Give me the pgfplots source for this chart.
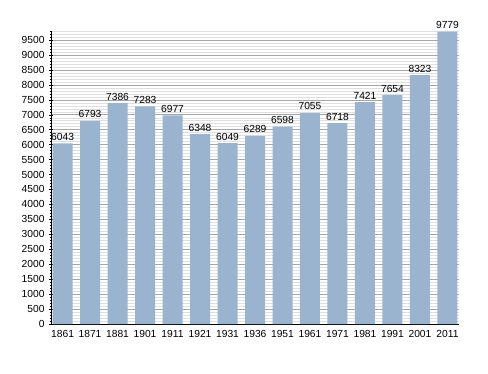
\documentclass[border=0pt]{standalone}
\usepackage{fontspec}
\setmainfont{Liberation Sans}
\usepackage{pgfplots}
\pgfplotsset{compat=1.18}
\definecolor{barblue}{RGB}{154,179,207}
\begin{document}
\begin{tikzpicture}[x=1bp,y=1bp]
\useasboundingbox (0,0) rectangle (488,373);
\begin{axis}[
  at={(51bp,49bp)}, anchor=south west,
  scale only axis, width=408bp, height=293bp,
  xmin=-0.42, xmax=14.42, ymin=0, ymax=9800,
  axis x line=bottom, axis y line=left,
  axis line style={-, black, line width=0.8pt},
  xtick=data,
  xticklabels={1861,1871,1881,1901,1911,1921,1931,1936,1951,1961,1971,1981,1991,2001,2011},
  x tick style={draw=none},
  ytick distance=500,
  minor y tick num=4,
  ymajorgrids, yminorgrids,
  major grid style={gray!70, line width=0.5pt},
  minor grid style={gray!25, line width=0.4pt},
  y tick style={black, line width=0.4pt},
  major tick length=4bp, minor tick length=2bp,
  tick label style={font=\fontsize{10.3}{12}\selectfont},
  /pgf/number format/assume math mode=true,
  /pgf/number format/1000 sep={},
  yticklabel style={xshift=-1bp},
  xticklabel style={yshift=-1bp},
  nodes near coords,
  nodes near coords style={font=\fontsize{10.3}{12}\selectfont, yshift=-0.5bp},
  point meta=explicit symbolic,
]
\addplot[ybar, bar width=20bp, fill=barblue, draw=none] table[x=x, y=y, meta=y] {
x y
0 6043
1 6793
2 7386
3 7283
4 6977
5 6348
6 6049
7 6289
8 6598
9 7055
10 6718
11 7421
12 7654
13 8323
14 9779
};
\end{axis}
\end{tikzpicture}
\end{document}
